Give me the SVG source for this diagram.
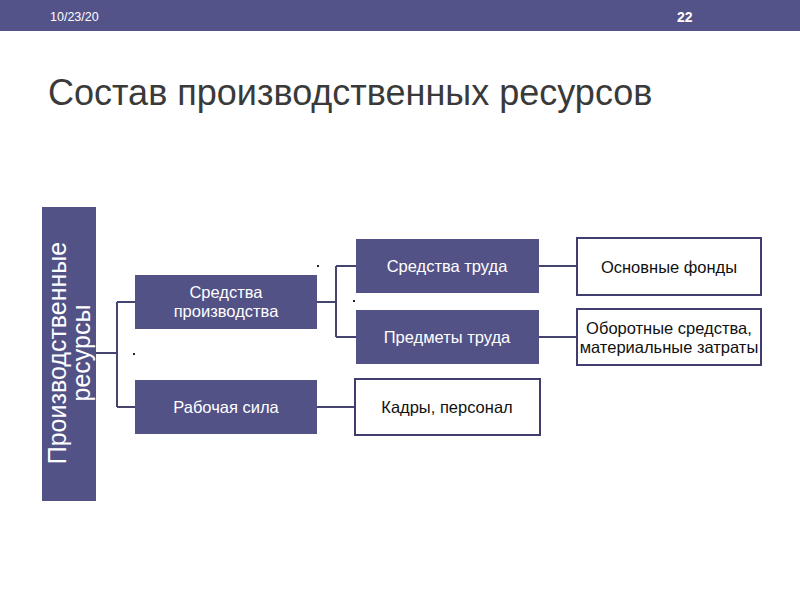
<svg xmlns="http://www.w3.org/2000/svg" width="800" height="600" viewBox="0 0 800 600">
<style>
.dark{fill:#525287}
.white{fill:#ffffff;stroke:#3f3e6e;stroke-width:2}
.lt{font-family:"Liberation Sans",Arial,sans-serif;font-size:16.5px;fill:#ffffff;text-anchor:middle}
.dt{font-family:"Liberation Sans",Arial,sans-serif;font-size:16.5px;fill:#111111;text-anchor:middle}
.con{fill:none;stroke:#45446f;stroke-width:2}
.dot{fill:#222222}
</style>
<rect width="800" height="600" fill="#ffffff"/>
<g id="header">
<rect x="0" y="0" width="800" height="31" fill="#545389"/>
<text x="50" y="21" font-family="Liberation Sans,Arial,sans-serif" font-size="12.5" fill="#ffffff">10/23/20</text>
<text x="677" y="22" font-family="Liberation Sans,Arial,sans-serif" font-size="14" font-weight="bold" fill="#ffffff">22</text>
</g>
<text id="title" x="48" y="105" font-family="Liberation Sans,Arial,sans-serif" font-size="36" fill="#3a3a3a">Состав производственных ресурсов</text>
<g id="connectors">
<path class="con" d="M96,353 H117 M117,302 V407 M117,302 H135 M117,407 H135"/>
<path class="con" d="M317,302 H336 M336,266 V337 M336,266 H356 M336,337 H356"/>
<path class="con" d="M539,266 H577 M539,337 H577 M317,407 H354"/>
</g>
<g id="root">
<rect class="dark" x="42" y="207" width="54" height="294"/>
<text transform="translate(0,353) rotate(-90)" font-family="Liberation Sans,Arial,sans-serif" font-size="25" fill="#ffffff" text-anchor="middle"><tspan x="0" y="66">Производственные</tspan><tspan x="0" y="90">ресурсы</tspan></text>
</g>
<g id="sp">
<rect class="dark" x="135" y="275" width="182" height="54"/>
<text class="lt" x="226" y="298">Средства</text>
<text class="lt" x="226" y="317">производства</text>
</g>
<g id="rs">
<rect class="dark" x="135" y="380" width="182" height="54"/>
<text class="lt" x="226" y="413">Рабочая сила</text>
</g>
<g id="st">
<rect class="dark" x="356" y="239" width="183" height="54"/>
<text class="lt" x="447" y="272">Средства труда</text>
</g>
<g id="pt">
<rect class="dark" x="356" y="310" width="183" height="54"/>
<text class="lt" x="447" y="343">Предметы труда</text>
</g>
<g id="of">
<rect class="white" x="577" y="238" width="184" height="57"/>
<text class="dt" x="669" y="273">Основные фонды</text>
</g>
<g id="obs">
<rect class="white" x="577" y="309" width="184" height="56"/>
<text class="dt" x="669" y="334">Оборотные средства,</text>
<text class="dt" x="669" y="353">материальные затраты</text>
</g>
<g id="kp">
<rect class="white" x="355" y="379" width="185" height="56"/>
<text class="dt" x="447" y="413">Кадры, персонал</text>
</g>
<g id="dots">
<rect class="dot" x="317" y="265" width="2" height="2"/>
<rect class="dot" x="353" y="300" width="2" height="2"/>
<rect class="dot" x="133" y="353" width="2" height="2"/>
</g>
</svg>
